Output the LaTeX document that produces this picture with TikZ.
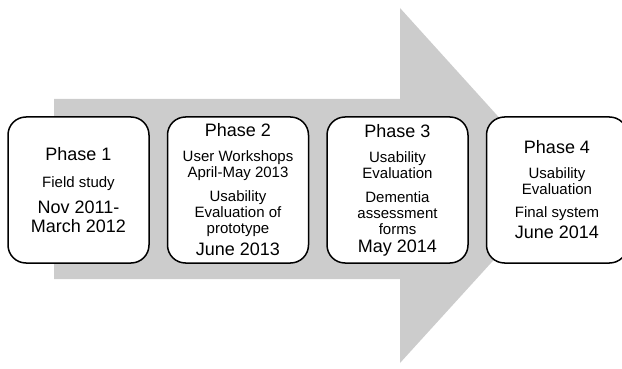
\documentclass[tikz,border=0pt]{standalone}
\usepackage{fontspec}
\setmainfont{Liberation Sans}
\usepackage{xcolor}
\usepackage{tikz}
\usetikzlibrary{positioning, shapes, calc}
\definecolor{arrowgray}{rgb}{0.8, 0.8, 0.8}
\newcommand{\bigtxt}{\fontsize{18}{16}\selectfont}
\newcommand{\smalltxt}{\fontsize{15}{16}\selectfont}

\begin{document}
\begin{tikzpicture}[x=1pt, y=-1pt, phasebox/.style={draw=black, line width=1.5pt, rounded corners=18pt, fill=white, minimum width=141pt, minimum height=146pt, inner sep=0pt, align=center, font=\smalltxt}]
		\useasboundingbox (0,0) rectangle (622,369);
		\pgfmathsetmacro{\shaftx}{54}
		\pgfmathsetmacro{\headx}{400}
		\pgfmathsetmacro{\tipx}{561}
		
		\draw[draw=none, fill=arrowgray] (\shaftx,99) -- (\headx,99) -- ++(0,-91) -- (\tipx,186) -- (\headx,363) -- ++(0,-84) -- (\shaftx,279) -- cycle;
		
		\node[phasebox] (p1) at (78.5,190) {{\bigtxt Phase 1}\\[11pt]{\smalltxt Field study}\\[10pt]{\bigtxt Nov 2011-}\\[3pt]{\bigtxt March 2012}};
		\node[phasebox, right=17pt of p1] (p2) {{\bigtxt Phase 2}\\[9pt]{\smalltxt User Workshops}\\{\smalltxt April-May 2013}\\[8pt]{\smalltxt Usability}\\{\smalltxt Evaluation of}\\{\smalltxt prototype}\\[6pt]{\bigtxt June 2013}};
		\node[phasebox, right=17pt of p2] (p3) {{\bigtxt Phase 3}\\[9pt]{\smalltxt Usability}\\{\smalltxt Evaluation}\\[8pt]{\smalltxt Dementia}\\{\smalltxt assessment}\\{\smalltxt forms}\\[2pt]{\bigtxt May 2014}};
		\node[phasebox, right=17pt of p3] (p4) {{\bigtxt Phase 4}\\[9pt]{\smalltxt Usability}\\{\smalltxt Evaluation}\\[7pt]{\smalltxt Final system}\\[5pt]{\bigtxt June 2014}};
		\end{tikzpicture}
\end{document}
